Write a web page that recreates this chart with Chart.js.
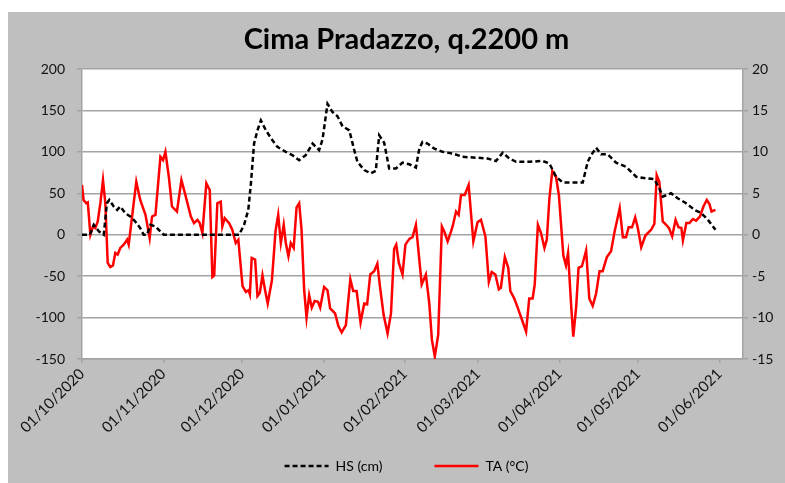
<!DOCTYPE html>
<html><head><meta charset="utf-8">
<script src="https://cdn.jsdelivr.net/npm/chart.js@4"></script>
<style>
html,body{margin:0;padding:0;background:#fff;}
#frame{position:absolute;left:8px;top:12px;width:777px;height:471px;background:#bfbfbf;}
canvas{display:block;}
</style></head><body>
<div id="frame"><canvas id="c" width="777" height="471"></canvas></div>
<script>
// x values are days since 01/10/2020
const monthDays = [0, 31, 61, 92, 123, 151, 182, 212, 243];
const monthLabels = ['01/10/2020','01/11/2020','01/12/2020','01/01/2021','01/02/2021','01/03/2021','01/04/2021','01/05/2021','01/06/2021'];

const hsDays = [0,3,4.5,6.4,8.3,9.5,10.4,12.1,13.4,14.6,16.5,18.4,20.3,22.2,23.5,24.8,26.1,28,29.9,31.2,59.9,61.8,63.4,64.4,65.6,66.9,68.2,70.1,72.6,74.5,77.7,80.2,82.8,85.3,87.9,90.4,91.7,93.6,95.5,97.4,99.3,101.9,103.8,105,107.6,110.1,112,113.3,115.2,117.1,119.7,122.2,124.8,127.3,128.6,129.8,131.7,134.3,137.5,141.3,145.1,150.2,154.6,157.8,160.4,162.9,165.5,170.5,175.6,178.2,180.7,183.3,190.9,192.8,194.1,196,197.9,200.4,203.6,207.4,211.3,215.1,218.2,220.1,221.4,224.6,227.1,230.3,233.5,236.1,238.6,241.5];
const hsValues = [0,0,12,4,0,38,42,34,30,34,26,22,16,8,0,0,12,10,4,0,0,12,30,62,110,126,138,126,114,106,100,96,90,96,110,102,115,158,148,143,131,126,102,88,78,74,77,120,111,80,80,87,85,81,104,112,110,104,100,98,94,93,92,89,99,92,88,88,89,86,70,63,63,88,96,105,97,97,87,82,70,68,67,56,46,50,44,38,30,26,18,6];

const taDays = [0,0.6,1.6,2.2,3.2,4.2,5.1,6.0,7.0,8.0,8.9,9.8,10.8,11.8,12.7,13.6,14.6,15.9,17.2,17.8,19.1,20.7,22.2,24.2,25.8,26.7,28.0,29.9,30.9,31.8,33.1,34.3,36.2,37.9,39.4,41.5,42.7,44.0,44.9,45.9,47.4,48.7,49.7,50.4,51.6,52.9,53.5,54.4,56.1,57.3,58.6,59.6,61.2,62.5,63.5,64.0,64.7,66.0,66.9,67.8,68.8,69.8,70.8,72.4,73.8,74.8,75.8,76.9,77.7,78.7,79.6,80.7,81.8,82.8,83.7,84.7,85.6,86.6,87.6,88.7,90.0,90.8,92.3,93.6,94.6,96.5,97.7,99.0,100.6,102.3,103.4,104.7,106.2,107.6,108.7,109.9,111.4,112.6,113.7,115.0,116.5,117.8,119.0,119.8,120.8,122.2,123.3,124.8,126.0,127.3,128.6,129.5,131.1,132.4,133.4,134.5,135.8,137.2,138.1,139.4,140.7,141.3,142.6,143.6,144.5,145.9,147.4,149.2,150.8,152.1,153.8,155.1,156.2,157.6,158.9,159.7,161.2,162.5,163.3,164.8,166.1,168.0,169.3,170.5,171.8,172.6,173.8,175.0,176.3,177.2,178.2,179.3,180.7,181.8,182.6,183.5,184.5,185.3,186.5,187.3,188.4,189.3,190.6,192.2,193.4,194.7,196.0,197.3,198.5,200.1,201.7,203.0,205.0,206.2,207.4,208.4,209.7,210.9,211.9,213.2,214.8,217.0,218.2,219.1,220.1,221.4,222.7,223.8,225.0,226.3,227.4,228.5,229.1,230.4,231.6,232.9,234.1,235.6,236.9,238.2,239.2,240.0,241.5];
const taValues = [6.0,4.2,3.8,3.9,0.0,1.0,0.8,1.6,3.8,6.6,3.8,-3.4,-3.9,-3.7,-2.2,-2.4,-1.6,-1.2,-0.6,-1.2,2.2,6.4,4.2,2.4,-0.4,2.2,2.4,9.4,9.0,10.0,7.0,3.4,2.8,6.6,4.8,2.2,1.4,1.8,1.4,0.2,6.2,5.4,-5.1,-4.9,3.8,4.0,1.0,2.0,1.4,0.6,-1.0,-0.6,-6.2,-6.9,-6.7,-7.2,-2.8,-3.0,-7.4,-7.0,-4.9,-6.7,-8.3,-5.5,0.5,2.4,-1.0,1.2,-1.0,-2.6,-1.0,-1.6,3.3,3.8,0.6,-6.7,-10.0,-7.3,-8.8,-8.0,-8.1,-8.8,-6.3,-6.7,-8.9,-9.5,-11.0,-11.8,-10.9,-5.4,-6.8,-6.8,-10.6,-8.3,-8.4,-4.8,-4.4,-3.5,-6.5,-9.7,-11.9,-9.5,-1.7,-1.2,-3.4,-4.8,-1.2,-0.5,-0.3,1.2,-3.0,-6.0,-4.8,-8.3,-12.7,-14.7,-12.1,1.0,0.4,-0.8,0.4,1.0,2.8,2.4,4.8,4.8,6.0,-0.8,1.5,1.8,-0.2,-5.7,-4.5,-4.8,-6.6,-6.4,-2.7,-4.0,-6.8,-7.7,-8.8,-10.5,-11.7,-7.7,-7.7,-6.0,1.2,0.2,-1.6,-0.6,4.4,7.7,7.0,4.8,1.4,-2.5,-3.7,-2.2,-8.6,-12.3,-8.7,-4.0,-3.8,-1.9,-7.7,-8.6,-7.1,-4.4,-4.4,-2.7,-2.0,0.3,3.2,-0.3,-0.3,0.9,0.9,2.1,0.8,-1.5,-0.1,0.6,1.3,7.2,6.4,1.6,1.2,0.8,-0.2,1.8,0.9,0.8,-0.7,1.4,1.4,1.9,1.7,2.2,3.4,4.2,3.7,2.8,3.0];

const FONT = 'Lato';
const GRID = '#a3a3a3';

const plotBg = {
  id: 'plotBg',
  beforeDraw(chart) {
    const {ctx, chartArea: a} = chart;
    ctx.save();
    ctx.fillStyle = '#ffffff';
    ctx.fillRect(a.left, a.top, a.right - a.left, a.bottom - a.top);
    ctx.restore();
  }
};

new Chart(document.getElementById('c'), {
  type: 'line',
  data: {
    datasets: [
      {
        label: 'HS (cm)',
        data: hsDays.map((d, i) => ({x: d, y: hsValues[i]})),
        yAxisID: 'y',
        borderColor: '#000000',
        borderWidth: 2.5,
        borderDash: [5, 3],
        pointRadius: 0,
        tension: 0,
        fill: false
      },
      {
        label: 'TA (°C)',
        data: taDays.map((d, i) => ({x: d, y: taValues[i]})),
        yAxisID: 'y2',
        borderColor: '#ff0000',
        borderWidth: 2.5,
        pointRadius: 0,
        tension: 0,
        fill: false
      }
    ]
  },
  options: {
    responsive: false,
    animation: false,
    devicePixelRatio: 1,
    layout: {padding: {left: 20, right: 0, top: 0, bottom: 0}},
    plugins: {
      title: {
        display: true,
        text: 'Cima Pradazzo, q.2200 m',
        color: '#000',
        font: {family: FONT, size: 29, weight: 'bold', lineHeight: 1.2},
        padding: {top: 10.5, bottom: 11.7}
      },
      legend: {
        position: 'bottom',
        labels: {
          usePointStyle: true,
          pointStyleWidth: 44,
          padding: 52,
          color: '#000',
          font: {family: FONT, size: 14},
          generateLabels(chart) {
            return chart.data.datasets.map((ds, i) => ({
              text: ds.label,
              fillStyle: ds.borderColor,
              strokeStyle: ds.borderColor,
              lineWidth: ds.borderWidth,
              lineDash: ds.borderDash || [],
              pointStyle: 'line',
              hidden: false,
              datasetIndex: i,
              fontColor: '#000'
            }));
          }
        }
      },
      tooltip: {enabled: false}
    },
    scales: {
      x: {
        type: 'linear',
        min: 0,
        max: 252,
        afterBuildTicks(s) { s.ticks = monthDays.map(v => ({value: v})); },
        afterFit(s) { s.height = 48; s._computeLabelArea = () => undefined; },
        ticks: {
          autoSkip: false,
          minRotation: 45,
          maxRotation: 45,
          color: '#111',
          padding: 2,
          font: {family: FONT, size: 15},
          callback(v) { const i = monthDays.indexOf(v); return i >= 0 ? monthLabels[i] : ''; }
        },
        grid: {drawOnChartArea: false, drawTicks: true, tickLength: 4, color: GRID, lineWidth: 1.5},
        border: {display: true, color: GRID, width: 1.5}
      },
      y: {
        position: 'left',
        min: -150,
        max: 200,
        afterFit(s) { s.width = 54; },
        ticks: {stepSize: 50, color: '#111', padding: 12, font: {family: FONT, size: 14}},
        grid: {color: GRID, lineWidth: 1.5, tickLength: 5},
        border: {display: true, color: GRID, width: 1.5}
      },
      y2: {
        position: 'right',
        min: -15,
        max: 20,
        afterFit(s) { s.width = 42; },
        ticks: {stepSize: 5, color: '#111', padding: 4, font: {family: FONT, size: 14}},
        grid: {drawOnChartArea: false, color: GRID, lineWidth: 1.5, tickLength: 5},
        border: {display: true, color: GRID, width: 1.5}
      }
    }
  },
  plugins: [plotBg]
});
</script>
</body></html>
